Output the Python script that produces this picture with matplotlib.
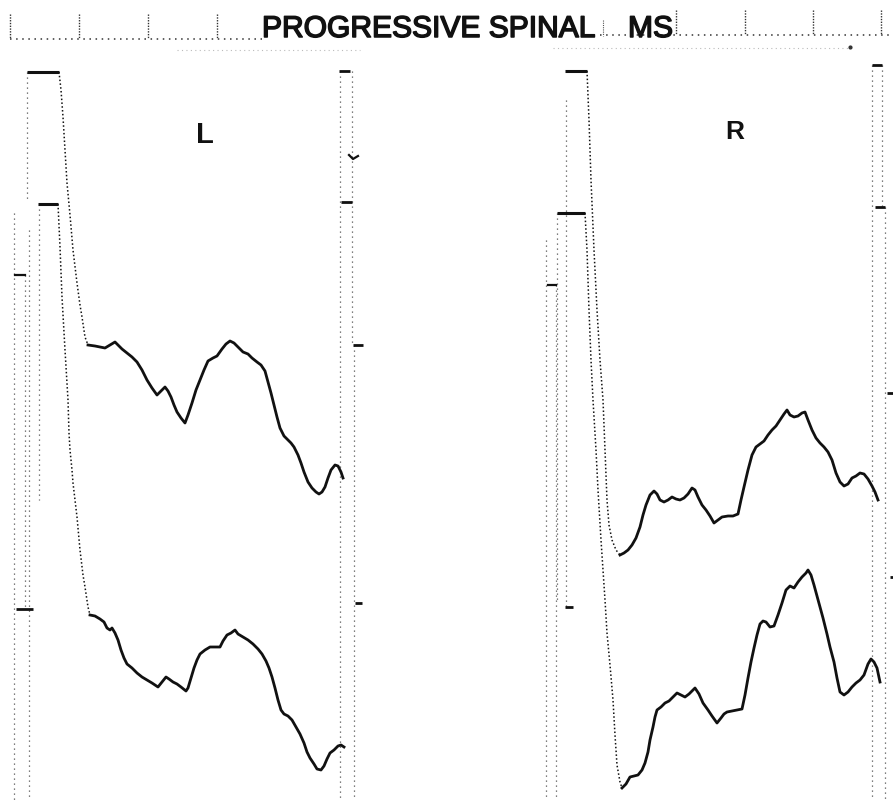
import matplotlib.pyplot as plt
import matplotlib.patheffects as pe

# scan is plotted in its own pixel units (x right, y down)
title_left = "PROGRESSIVE SPINAL"
title_right = "MS"
side_labels = ["L", "R"]
label_x = [205, 735]
label_y = [135, 132]
label_size = [21, 19]

hdr_ticks_left = [10, 79, 148, 217]
hdr_ticks_right = [676, 745, 813, 881]

# ---- left eye, upper trace
l_up_pulse_x = [27, 59]
l_up_pulse_y = [72, 72]
l_up_drop_x = [59, 61, 63, 65, 67, 70, 73, 77, 80, 82, 85, 88]
l_up_drop_y = [72, 90, 117, 150, 183, 215, 250, 283, 305, 317, 337, 345]
l_up_x = [88, 95, 100, 105, 110, 115, 118, 122, 127, 132, 137, 142, 147, 152, 157, 161,
          165, 168, 171, 174, 177, 181, 185, 188, 192, 196, 200, 204, 208, 213, 217, 222,
          226, 230, 234, 238, 243, 248, 252, 257, 261, 265, 268, 271, 274, 277, 280, 284,
          288, 291, 294, 298, 301, 304, 308, 312, 316, 319, 322, 325, 328, 331, 335, 338,
          341, 343]
l_up_y = [345, 346, 347, 348, 345, 342, 345, 349, 353, 357, 362, 370, 380, 388, 395, 391,
          387, 391, 397, 405, 412, 418, 423, 415, 403, 390, 380, 370, 361, 358, 356, 349,
          344, 341, 343, 347, 352, 354, 358, 362, 365, 371, 382, 393, 405, 417, 428, 436,
          440, 443, 447, 455, 463, 472, 482, 488, 492, 494, 492, 487, 478, 470, 465, 466,
          472, 478]

# ---- left eye, lower trace
l_lo_pulse_x = [38, 58]
l_lo_pulse_y = [204, 204]
l_lo_drop_x = [58, 60, 62, 65, 68, 69, 70, 72, 73, 75, 77, 80, 83, 85, 88, 90]
l_lo_drop_y = [204, 247, 297, 350, 400, 433, 450, 470, 483, 500, 517, 550, 575, 587, 607, 615]
l_lo_x = [90, 95, 100, 104, 107, 110, 112, 115, 118, 121, 124, 127, 132, 137, 142, 147,
          152, 158, 162, 166, 169, 173, 177, 181, 186, 188, 191, 194, 197, 200, 205, 210,
          215, 220, 223, 227, 231, 235, 238, 243, 248, 253, 258, 262, 266, 269, 272, 275,
          278, 281, 284, 288, 292, 296, 300, 304, 307, 310, 314, 317, 321, 324, 327, 330,
          334, 338, 341, 344]
l_lo_y = [615, 616, 619, 622, 628, 630, 628, 633, 640, 650, 658, 664, 668, 673, 677, 680,
          683, 687, 682, 677, 679, 682, 684, 687, 691, 688, 678, 668, 660, 654, 650, 647,
          647, 647, 641, 635, 633, 630, 634, 637, 640, 644, 649, 654, 661, 668, 677, 688,
          700, 710, 714, 716, 720, 727, 734, 743, 752, 758, 764, 769, 770, 766, 759, 753,
          750, 746, 745, 747]

# ---- right eye, upper trace
r_up_pulse_x = [565, 587]
r_up_pulse_y = [71, 71]
r_up_drop_x = [587, 589, 591, 594, 597, 600, 603, 605, 607, 609, 612, 616, 620]
r_up_drop_y = [71, 120, 180, 250, 310, 360, 400, 450, 500, 525, 540, 550, 555]
r_up_x = [620, 624, 628, 632, 636, 640, 643, 646, 650, 654, 657, 660, 664, 668, 672, 676,
          680, 684, 688, 692, 695, 698, 702, 706, 710, 714, 718, 722, 728, 733, 738, 741,
          744, 748, 752, 756, 760, 764, 768, 772, 776, 780, 784, 787, 790, 794, 798, 802,
          805, 808, 812, 816, 820, 824, 828, 832, 836, 840, 844, 848, 852, 856, 860, 864,
          868, 872, 875, 878]
r_up_y = [555, 553, 550, 545, 538, 527, 515, 505, 495, 491, 494, 500, 502, 500, 497, 499,
          500, 498, 494, 488, 490, 497, 505, 510, 516, 523, 520, 517, 516, 516, 514, 500,
          487, 470, 455, 447, 444, 441, 435, 430, 426, 420, 414, 410, 415, 417, 416, 413,
          412, 420, 430, 438, 443, 447, 452, 460, 473, 482, 486, 484, 478, 476, 473, 474,
          479, 486, 492, 500]

# ---- right eye, lower trace
r_lo_pulse_x = [557, 585]
r_lo_pulse_y = [213, 213]
r_lo_drop_x = [585, 587, 589, 591, 593, 596, 598, 601, 603, 605, 607, 610, 613, 615, 617,
               620, 622]
r_lo_drop_y = [213, 250, 310, 360, 400, 450, 490, 540, 570, 600, 633, 665, 700, 735, 765,
               782, 788]
r_lo_x = [622, 626, 630, 634, 638, 642, 645, 648, 650, 653, 655, 657, 661, 665, 669, 673,
          677, 681, 685, 689, 693, 695, 699, 703, 708, 712, 717, 721, 724, 727, 732, 737,
          742, 745, 748, 751, 754, 757, 760, 763, 766, 770, 774, 778, 782, 786, 790, 794,
          798, 802, 806, 808, 811, 814, 817, 820, 823, 827, 830, 834, 837, 840, 844, 848,
          852, 856, 860, 864, 868, 871, 874, 877, 880]
r_lo_y = [788, 784, 777, 776, 775, 770, 763, 752, 740, 727, 717, 710, 707, 703, 701, 697,
          693, 695, 697, 694, 690, 688, 694, 703, 710, 716, 723, 718, 714, 712, 711, 710,
          709, 695, 678, 662, 648, 635, 624, 621, 622, 627, 626, 615, 603, 590, 586, 588,
          582, 577, 573, 570, 575, 585, 596, 607, 618, 634, 647, 662, 678, 692, 695, 692,
          687, 683, 680, 675, 664, 659, 662, 668, 682]

# small calibration steps at the panel edges
small_pulse_x = [[15, 25], [548, 556]]
small_pulse_y = [[275, 275], [285, 285]]

# faint dotted retrace columns: x, top, bottom
retrace_x = [14, 25, 29, 39, 27, 340, 352, 354, 546, 556, 557, 566, 872, 882, 885]
retrace_top = [213, 275, 230, 204, 72, 71, 71, 345, 240, 285, 213, 100, 65, 65, 207]
retrace_bot = [800, 607, 800, 500, 200, 800, 345, 800, 800, 800, 600, 607, 800, 207, 800]

# short heavy ticks at the ends of the sweeps
tick_x0 = [16, 339, 341, 353, 355, 565, 872, 875, 887, 890]
tick_x1 = [33, 350, 352, 363, 362, 573, 882, 885, 893, 893]
tick_y = [609, 71, 202, 345, 603, 607, 65, 207, 393, 577]

fig = plt.figure(figsize=(8.93, 8.0), dpi=100)
ax = fig.add_axes([0, 0, 1, 1])
ax.set_xlim(0, 893)
ax.set_ylim(800, 0)
ax.axis('off')

ink = '#111111'
dots = (0, (1, 2))
fam = ['Liberation Sans', 'DejaVu Sans']
heavy = [pe.withStroke(linewidth=1.1, foreground=ink)]

# header scale line
ax.plot([10, 262], [39, 39], color='#333333', lw=1.1, ls=(0, (1, 3)))
ax.plot([600, 890], [35, 35], color='#333333', lw=1.1, ls=(0, (1, 3)))
for x in hdr_ticks_left:
    ax.plot([x, x], [14, 39], color='#333333', lw=1.0, ls=(0, (1, 1)))
for x in hdr_ticks_right:
    ax.plot([x, x], [10, 35], color='#333333', lw=1.0, ls=(0, (1, 1)))
ax.plot([603, 603], [20, 36], color='#555555', lw=0.8, ls=(0, (1, 1)))
ax.plot([177, 360], [50, 50], color='#bbbbbb', lw=0.8, ls=(0, (1, 3)))
ax.plot([553, 850], [48, 48], color='#bbbbbb', lw=0.8, ls=(0, (1, 3)))
ax.plot([850], [47], 'o', color='#333333', ms=2)

for s, x in [(title_left, 262), (title_right, 628)]:
    ax.text(x, 37, s, fontsize=21.6, family=fam, color=ink, ha='left', va='baseline',
            path_effects=heavy)
for lab, x, y, fs in zip(side_labels, label_x, label_y, label_size):
    ax.text(x, y, lab, fontsize=fs, fontweight='bold', family=fam,
            color=ink, ha='center', va='center')

# retrace columns
for x, y0, y1 in zip(retrace_x, retrace_top, retrace_bot):
    ax.plot([x, x], [y0, y1], color='#555555', lw=0.9, ls=(0, (1, 3)))

for x0, x1, y in zip(tick_x0, tick_x1, tick_y):
    ax.plot([x0, x1], [y, y], color=ink, lw=2.0, solid_capstyle='butt')
ax.plot([349, 353, 358], [155, 159, 156], color=ink, lw=1.6)

for px, py in zip(small_pulse_x, small_pulse_y):
    ax.plot(px, py, color=ink, lw=1.6)

# calibration pulses and steep fall lines
for px, py in [(l_up_pulse_x, l_up_pulse_y), (l_lo_pulse_x, l_lo_pulse_y),
               (r_up_pulse_x, r_up_pulse_y), (r_lo_pulse_x, r_lo_pulse_y)]:
    ax.plot(px, py, color=ink, lw=2.2, solid_capstyle='butt')
for dx, dy in [(l_up_drop_x, l_up_drop_y), (l_lo_drop_x, l_lo_drop_y),
               (r_up_drop_x, r_up_drop_y), (r_lo_drop_x, r_lo_drop_y)]:
    ax.plot(dx, dy, color=ink, lw=1.1, ls=(0, (1, 1.5)))

# the responses
for wx, wy in [(l_up_x, l_up_y), (l_lo_x, l_lo_y), (r_up_x, r_up_y), (r_lo_x, r_lo_y)]:
    ax.plot(wx, wy, color=ink, lw=2.0, solid_joinstyle='round')

fig.savefig('out.png', dpi=100)
